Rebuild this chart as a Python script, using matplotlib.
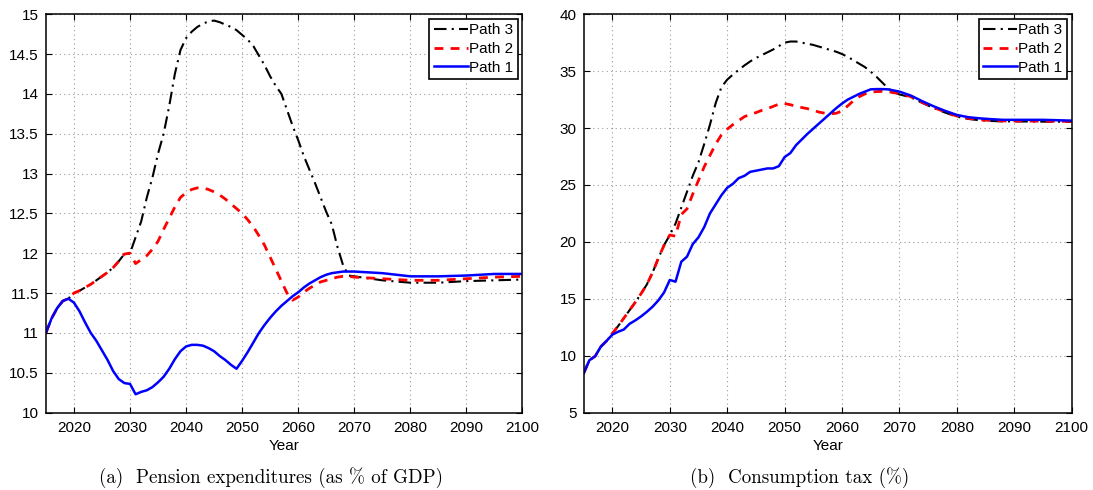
import matplotlib
matplotlib.use("Agg")
import matplotlib.pyplot as plt

plt.rcParams['font.family'] = ['Liberation Sans', 'DejaVu Sans']

# ---- (a) pension expenditures, % of GDP ----
years_a = list(range(2015, 2071)) + [2075, 2080, 2085, 2090, 2095, 2100]

pension_p1 = [11.00, 11.18, 11.31, 11.40, 11.43, 11.38, 11.27, 11.13, 11.00, 10.90,
              10.78, 10.66, 10.52, 10.42, 10.37, 10.36, 10.23, 10.26, 10.28, 10.32,
              10.38, 10.45, 10.55, 10.67, 10.77, 10.83, 10.85, 10.85, 10.84, 10.81,
              10.77, 10.71, 10.66, 10.60, 10.55, 10.65, 10.76, 10.88, 11.00, 11.10,
              11.19, 11.27, 11.34, 11.40, 11.46, 11.51, 11.57, 11.62, 11.66, 11.70,
              11.73, 11.75, 11.76, 11.77, 11.77, 11.77,
              11.75, 11.71, 11.71, 11.72, 11.74, 11.74]

pension_p2 = [11.00, 11.18, 11.31, 11.40, 11.43, 11.50, 11.53, 11.57, 11.61, 11.66,
              11.71, 11.76, 11.82, 11.90, 11.99, 12.00, 11.87, 11.92, 11.97, 12.05,
              12.15, 12.30, 12.44, 12.58, 12.70, 12.76, 12.80, 12.82, 12.82, 12.80,
              12.77, 12.73, 12.68, 12.62, 12.56, 12.50, 12.42, 12.33, 12.22, 12.10,
              11.95, 11.80, 11.65, 11.50, 11.41, 11.45, 11.51, 11.56, 11.60, 11.64,
              11.66, 11.68, 11.70, 11.71, 11.71, 11.70,
              11.68, 11.66, 11.66, 11.68, 11.70, 11.71]

pension_p3 = [11.00, 11.18, 11.31, 11.40, 11.43, 11.50, 11.53, 11.57, 11.61, 11.66,
              11.71, 11.76, 11.82, 11.90, 11.99, 12.00, 12.20, 12.40, 12.70, 12.95,
              13.25, 13.50, 13.85, 14.25, 14.55, 14.70, 14.78, 14.84, 14.88, 14.91,
              14.92, 14.90, 14.87, 14.84, 14.80, 14.74, 14.68, 14.60, 14.48, 14.36,
              14.22, 14.10, 14.00, 13.80, 13.60, 13.42, 13.22, 13.05, 12.88, 12.70,
              12.52, 12.36, 12.08, 11.85, 11.72, 11.71,
              11.66, 11.63, 11.63, 11.65, 11.66, 11.67]

# ---- (b) consumption tax, % ----
years_b = list(range(2015, 2071)) + [2072, 2074, 2076, 2078, 2080, 2082, 2084,
                                     2086, 2088, 2090, 2095, 2100]

tax_p1 = [8.45, 9.60, 9.95, 10.80, 11.30, 11.85, 12.10, 12.30, 12.80, 13.10,
          13.45, 13.85, 14.30, 14.85, 15.55, 16.65, 16.50, 18.25, 18.70, 19.80,
          20.40, 21.30, 22.50, 23.30, 24.10, 24.75, 25.10, 25.60, 25.80, 26.15,
          26.25, 26.35, 26.45, 26.45, 26.65, 27.45, 27.80, 28.50, 29.00, 29.50,
          29.95, 30.40, 30.85, 31.30, 31.75, 32.15, 32.50, 32.75, 33.00, 33.20,
          33.40, 33.42, 33.42, 33.40, 33.30, 33.20,
          32.85, 32.35, 31.90, 31.50, 31.15, 30.95, 30.85, 30.78, 30.72, 30.72,
          30.72, 30.65]

tax_p2 = [8.45, 9.60, 9.95, 10.80, 11.30, 11.95, 12.60, 13.30, 14.00, 14.70,
          15.45, 16.25, 17.30, 18.55, 19.70, 20.60, 20.50, 22.40, 22.90, 24.20,
          25.40, 26.60, 27.60, 28.60, 29.40, 29.90, 30.30, 30.65, 31.00, 31.20,
          31.35, 31.55, 31.70, 31.90, 32.10, 32.15, 32.05, 31.90, 31.80, 31.70,
          31.55, 31.40, 31.30, 31.25, 31.30, 31.50, 31.95, 32.40, 32.75, 33.00,
          33.15, 33.20, 33.22, 33.20, 33.10, 33.05,
          32.75, 32.25, 31.80, 31.40, 31.05, 30.85, 30.72, 30.66, 30.62, 30.62,
          30.60, 30.58]

tax_p3 = [8.45, 9.60, 9.95, 10.80, 11.30, 11.95, 12.60, 13.30, 14.00, 14.70,
          15.45, 16.25, 17.30, 18.55, 19.70, 20.60, 21.60, 23.00, 24.40, 25.80,
          27.00, 28.60, 30.30, 32.20, 33.60, 34.25, 34.70, 35.10, 35.50, 35.85,
          36.15, 36.40, 36.65, 36.90, 37.20, 37.50, 37.60, 37.60, 37.50, 37.40,
          37.30, 37.15, 37.00, 36.85, 36.70, 36.50, 36.25, 35.95, 35.65, 35.35,
          34.95, 34.50, 34.00, 33.50, 33.15, 32.95,
          32.70, 32.20, 31.75, 31.35, 31.00, 30.80, 30.68, 30.62, 30.58, 30.58,
          30.56, 30.55]

labels = ['Path 3', 'Path 2', 'Path 1']
captions = ['(a)  Pension expenditures (as % of GDP)', '(b)  Consumption tax (%)']


def style_axes(ax, ylim, yticks):
    ax.set_xlim(2015, 2100)
    ax.set_ylim(*ylim)
    ax.set_xticks(range(2020, 2101, 10))
    ax.set_yticks(yticks)
    ax.set_yticklabels([f'{t:g}' for t in yticks])
    ax.tick_params(direction='in', top=True, right=True, length=4, width=0.8,
                   labelsize=11)
    ax.tick_params(axis='x', pad=6)
    ax.tick_params(axis='y', pad=5)
    ax.grid(True, color='#9a9a9a', linestyle=(0, (1, 3)), linewidth=0.8)
    for s in ax.spines.values():
        s.set_linewidth(1.1)
    ax.set_xlabel('Year', fontsize=11, labelpad=3)


def draw_paths(ax, x, p3, p2, p1):
    ax.plot(x, p3, color='black', linewidth=1.5, dashes=(6, 2.5, 1, 2.5), label=labels[0])
    ax.plot(x, p2, color='red', linewidth=2.0, dashes=(3.2, 2.6), label=labels[1])
    ax.plot(x, p1, color='blue', linewidth=1.8, label=labels[2])
    leg = ax.legend(loc='upper right', fontsize=11, fancybox=False, framealpha=1,
                    edgecolor='black', handlelength=2.2, handletextpad=0.1,
                    labelspacing=0.3, borderpad=0.3, borderaxespad=0.3)
    leg.get_frame().set_linewidth(1.2)


fig = plt.figure(figsize=(10.93, 4.9), dpi=100)
ax1 = fig.add_axes([0.042, 0.158, 0.436, 0.813])
ax2 = fig.add_axes([0.534, 0.158, 0.4465, 0.813])

draw_paths(ax1, years_a, pension_p3, pension_p2, pension_p1)
style_axes(ax1, (10, 15), [10, 10.5, 11, 11.5, 12, 12.5, 13, 13.5, 14, 14.5, 15])

draw_paths(ax2, years_b, tax_p3, tax_p2, tax_p1)
style_axes(ax2, (5, 40), [5, 10, 15, 20, 25, 30, 35, 40])

fig.text(271 / 1093, 1 - 478 / 490, captions[0], family='cmr10', fontsize=13.7,
         ha='center', va='center')
fig.text(800 / 1093, 1 - 478 / 490, captions[1], family='cmr10', fontsize=13.7,
         ha='center', va='center')

fig.savefig('out.png', dpi=100)
